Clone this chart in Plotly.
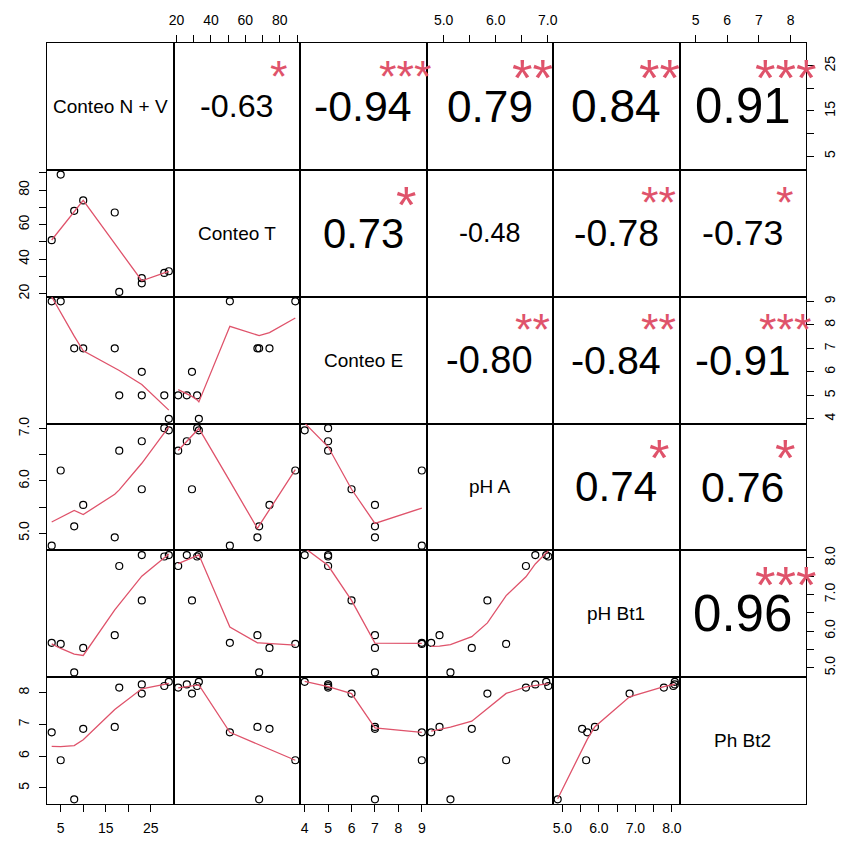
import numpy as np
import pandas as pd
import plotly.graph_objects as go
from plotly.subplots import make_subplots

# ---- data -------------------------------------------------------------
var_names = ["Conteo N + V", "Conteo T", "Conteo E", "pH A", "pH Bt1", "Ph Bt2"]
conteo_nv = [3, 5, 8, 10, 17, 18, 23, 23, 28, 29]
conteo_t = [51, 89, 68, 74, 67, 21, 29, 26, 32, 33]
conteo_e = [9, 9, 7, 7, 7, 5, 6, 5, 5, 4]
ph_a = [4.76, 6.20, 5.13, 5.54, 4.92, 6.58, 5.84, 6.76, 7.01, 6.97]
ph_bt1 = [5.68, 5.65, 4.87, 5.54, 5.89, 7.78, 6.84, 8.08, 8.04, 8.08]
ph_bt2 = [6.75, 5.87, 4.64, 6.86, 6.92, 8.16, 7.97, 8.26, 8.21, 8.34]

# axis ticks (blank text = unlabeled tick)
tick_values = [
    [5, 10, 15, 20, 25],
    [20, 30, 40, 50, 60, 70, 80, 90],
    [4, 5, 6, 7, 8, 9],
    [5.0, 5.5, 6.0, 6.5, 7.0],
    [5.0, 5.5, 6.0, 6.5, 7.0, 7.5, 8.0],
    [5, 6, 7, 8],
]
tick_labels = [
    ["5", "", "15", "", "25"],
    ["20", "", "40", "", "60", "", "80", ""],
    ["4", "5", "6", "7", "8", "9"],
    ["5.0", "", "6.0", "", "7.0"],
    ["5.0", "", "6.0", "", "7.0", "", "8.0"],
    ["5", "6", "7", "8"],
]

# significance marks of the rank correlation tests (upper triangle, row by row)
signif_marks = [
    "*", "***", "**", "**", "***",
    "*", "", "**", "*",
    "**", "**", "***",
    "*", "*",
    "***",
]

columns = [conteo_nv, conteo_t, conteo_e, ph_a, ph_bt1, ph_bt2]
df = pd.DataFrame({name: vals for name, vals in zip(var_names, columns)})
rho = df.corr(method="spearman").values

N = len(var_names)
FONT = "Liberation Sans, Arial, sans-serif"
RED = "#DF536B"
W_FIG, H_FIG = 850, 848
M_L, M_R, M_T, M_B = 47, 34, 43, 37
PANEL_W = (W_FIG - M_L - M_R) / N


def lowess(x, y, f=2 / 3, iters=3):
    """Port of R's clowess (robust locally weighted regression)."""
    x = np.asarray(x, float)
    y = np.asarray(y, float)
    o = np.argsort(x, kind="mergesort")
    x, y = x[o], y[o]
    n = len(x)
    ns = max(2, min(n, int(f * n + 1e-7)))
    span = x[-1] - x[0]
    delta = 0.01 * span
    ys = np.zeros(n)
    rw = np.ones(n)

    def lowest(xs, nleft, nright, userw):
        h = max(xs - x[nleft], x[nright] - xs)
        h9, h1 = 0.999 * h, 0.001 * h
        w = np.zeros(n)
        a = 0.0
        j = nleft
        while j < n:
            r = abs(x[j] - xs)
            if r <= h9:
                w[j] = 1.0 if r <= h1 else (1 - (r / h) ** 3) ** 3
                if userw:
                    w[j] *= rw[j]
                a += w[j]
            elif x[j] > xs:
                break
            j += 1
        nrt = j - 1
        if a <= 0:
            return None
        sl = slice(nleft, nrt + 1)
        w[sl] /= a
        if h > 0:
            a = np.sum(w[sl] * x[sl])
            b = xs - a
            c = np.sum(w[sl] * (x[sl] - a) ** 2)
            if np.sqrt(c) > 0.001 * span:
                b /= c
                w[sl] *= b * (x[sl] - a) + 1
        return float(np.sum(w[sl] * y[sl]))

    for it in range(1, iters + 2):
        nleft, nright, last, i = 0, ns - 1, -1, 0
        while True:
            if nright < n - 1:
                if x[i] - x[nleft] > x[nright + 1] - x[i]:
                    nleft += 1
                    nright += 1
                    continue
            v = lowest(x[i], nleft, nright, it > 1)
            ys[i] = y[i] if v is None else v
            if last < i - 1:
                denom = x[i] - x[last]
                for j in range(last + 1, i):
                    alpha = (x[j] - x[last]) / denom
                    ys[j] = alpha * ys[i] + (1 - alpha) * ys[last]
            last = i
            cut = x[last] + delta
            i = last + 1
            while i < n:
                if x[i] > cut:
                    break
                if x[i] == x[last]:
                    ys[i] = ys[last]
                    last = i
                i += 1
            i = max(last + 1, i - 1)
            if last >= n - 1:
                break
        res = y - ys
        sc = np.sum(np.abs(res)) / n
        if it > iters:
            break
        ra = np.abs(res)
        srt = np.sort(ra)
        m1 = n // 2
        cmad = 3 * (srt[m1] + srt[m1 - 1]) if n % 2 == 0 else 6 * srt[m1]
        if cmad < 1e-7 * sc:
            break
        c9, c1 = 0.999 * cmad, 0.001 * cmad
        rw = np.where(ra <= c1, 1.0, np.where(ra <= c9, (1 - (ra / cmad) ** 2) ** 2, 0.0))
    return x, ys


def em_width(txt):
    widths = {".": 0.278, "-": 0.333}
    return sum(widths.get(ch, 0.556) for ch in txt)


def axis_range(vals):
    lo, hi = min(vals), max(vals)
    pad = 0.04 * (hi - lo)
    return [lo - pad, hi + pad]


ranges = [axis_range(v) for v in columns]

fig = make_subplots(rows=N, cols=N, horizontal_spacing=0, vertical_spacing=0)

tick_font = dict(family=FONT, size=14, color="black")
base_axis = dict(showline=True, mirror=True, linecolor="black", linewidth=1.25,
                 showgrid=False, zeroline=False, ticks="", showticklabels=False)
tick_axis = dict(ticks="outside", ticklen=7, tickwidth=1, tickcolor="black",
                 showticklabels=True, tickfont=tick_font, ticklabelstandoff=4)

annotations = []
star_idx = 0
for i in range(N):
    for j in range(N):
        r, c = i + 1, j + 1
        k = i * N + j + 1
        sfx = "" if k == 1 else str(k)

        xa = dict(base_axis, range=ranges[j])
        ya = dict(base_axis, range=ranges[i])
        if i == 0 and j % 2 == 1:
            xa.update(tick_axis, side="top", tickvals=tick_values[j], ticktext=tick_labels[j])
        if i == N - 1 and j % 2 == 0:
            xa.update(tick_axis, side="bottom", tickvals=tick_values[j], ticktext=tick_labels[j])
        if j == 0 and i % 2 == 1:
            ya.update(tick_axis, side="left", tickangle=-90,
                      tickvals=tick_values[i], ticktext=tick_labels[i])
        if j == N - 1 and i % 2 == 0:
            ya.update(tick_axis, side="right", tickangle=-90,
                      tickvals=tick_values[i], ticktext=tick_labels[i])
        fig.update_xaxes(xa, row=r, col=c)
        fig.update_yaxes(ya, row=r, col=c)

        xref, yref = f"x{sfx} domain", f"y{sfx} domain"
        if i > j:
            # scatter of row variable against column variable with lowess smooth
            fig.add_trace(go.Scatter(x=columns[j], y=columns[i], mode="markers",
                                     marker=dict(symbol="circle-open", size=7,
                                                 color="black", line=dict(width=1.2)),
                                     hoverinfo="skip", showlegend=False), row=r, col=c)
            lx, ly = lowess(columns[j], columns[i])
            fig.add_trace(go.Scatter(x=lx, y=ly, mode="lines",
                                     line=dict(color=RED, width=1.3),
                                     hoverinfo="skip", showlegend=False), row=r, col=c)
            continue

        # text-only panels still need their frame and outer axes
        fig.add_trace(go.Scatter(x=[None], y=[None], mode="markers",
                                 hoverinfo="skip", showlegend=False), row=r, col=c)
        if i == j:
            annotations.append(dict(x=0.5, y=0.5, xref=xref, yref=yref, text=var_names[i],
                                    showarrow=False, xanchor="center", yanchor="middle",
                                    font=dict(family=FONT, size=19, color="black")))
        else:
            rv = rho[i, j]
            txt = f"{rv:.2f}"
            base = 0.8 * PANEL_W / em_width(txt)
            size = base * (abs(rv) + 0.3) / 1.3
            annotations.append(dict(x=0.5, y=0.5, xref=xref, yref=yref, text=txt,
                                    showarrow=False, xanchor="center", yanchor="middle",
                                    font=dict(family=FONT, size=size, color="black")))
            mark = signif_marks[star_idx]
            star_idx += 1
            if mark:
                annotations.append(dict(x=0.8, y=0.8, xref=xref, yref=yref, text=mark,
                                        showarrow=False, xanchor="center", yanchor="middle",
                                        xshift=0.1 * base, yshift=-0.17 * base,
                                        font=dict(family=FONT, size=base, color=RED)))

fig.update_layout(
    width=W_FIG, height=H_FIG,
    margin=dict(l=M_L, r=M_R, t=M_T, b=M_B),
    paper_bgcolor="white", plot_bgcolor="white",
    annotations=annotations,
    showlegend=False,
)

fig.write_html("out.html")
